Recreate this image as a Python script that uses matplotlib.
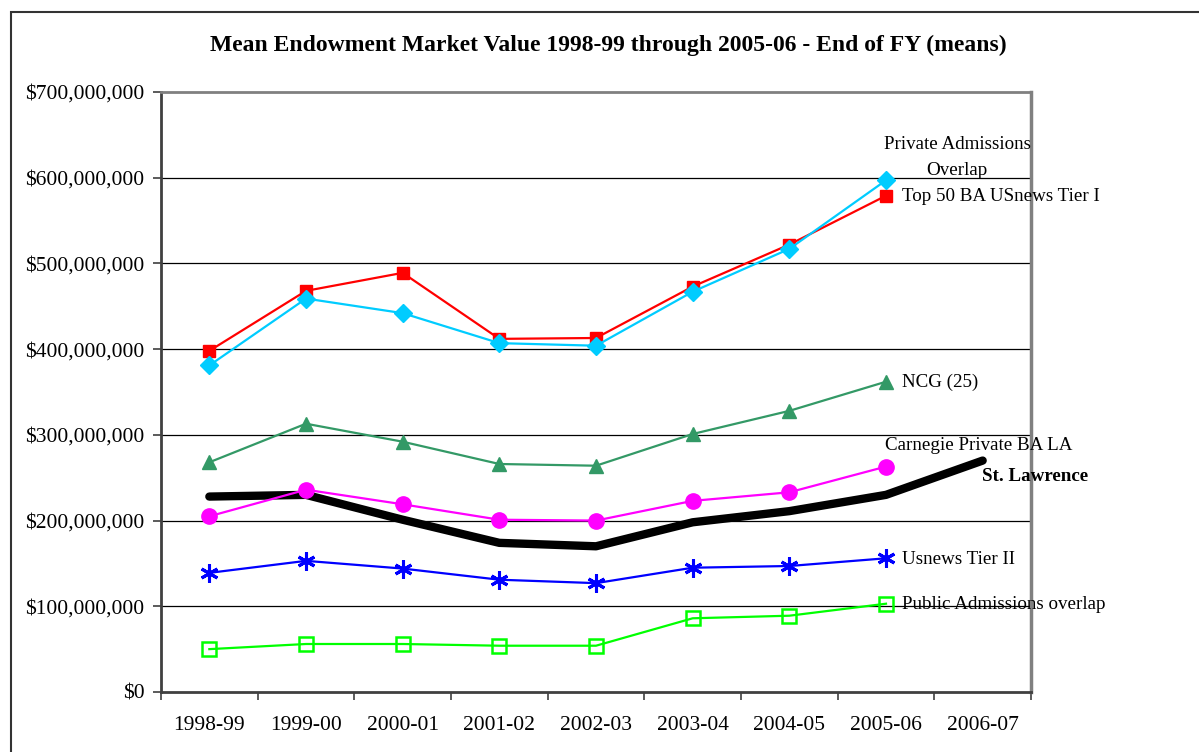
import matplotlib.pyplot as plt
from matplotlib.patches import Rectangle
from matplotlib.ticker import FixedLocator

plt.rcParams["font.family"] = ["Liberation Serif", "DejaVu Serif"]

# -----------------------------
# Data (in millions of dollars)
# -----------------------------
YEARS = ["1998-99", "1999-00", "2000-01", "2001-02", "2002-03",
         "2003-04", "2004-05", "2005-06", "2006-07"]

ST_LAWRENCE = [228, 230, 201, 174, 170, 198, 211, 230, 270]
TOP50_TIER1 = [398, 468, 489, 412, 413, 473, 522, 579]
PRIVATE_ADMISSIONS = [381, 459, 442, 407, 404, 467, 517, 597]
NCG_25 = [268, 313, 292, 266, 264, 301, 328, 362]
CARNEGIE_PRIVATE = [205, 236, 219, 201, 200, 223, 233, 263]
USNEWS_TIER2 = [139, 153, 144, 131, 127, 145, 147, 156]
PUBLIC_ADMISSIONS = [50, 56, 56, 54, 54, 86, 89, 103]

Y_TICKS = [0, 100, 200, 300, 400, 500, 600, 700]
Y_TICK_LABELS = ["$0", "$100,000,000", "$200,000,000", "$300,000,000",
                 "$400,000,000", "$500,000,000", "$600,000,000", "$700,000,000"]

TITLE = "Mean Endowment Market Value 1998-99 through 2005-06 - End of FY (means)"

# Colours
SKY = "#00CCFF"
RED = "#FF0000"
SEA_GREEN = "#339966"
MAGENTA = "#FF00FF"
BLUE = "#0000FF"
LIME = "#00FF00"
BLACK = "#000000"
GRAY = "#808080"
DARK = "#404040"


def add_label(ax, x, y, text, dx, dy, **kw):
    """Place a series label next to a data point (offset in pixels)."""
    ax.annotate(text, xy=(x, y), xytext=(dx, dy), textcoords="offset pixels",
                fontsize=13.7, color=BLACK, annotation_clip=False, **kw)


def main() -> None:
    fig = plt.figure(figsize=(11.99, 7.52), dpi=100)
    fig.patch.set_facecolor("white")

    # outer chart frame (runs off the right and bottom of the image)
    fig.patches.append(Rectangle((11 / 1199, -0.05), 1.1, 1 - 12 / 752 + 0.05,
                                 transform=fig.transFigure, fill=False,
                                 edgecolor="#333333", linewidth=1.5))

    ax = fig.add_axes([161 / 1199, 1 - 692 / 752, 870 / 1199, 600 / 752])

    x_all = list(range(len(YEARS)))
    x8 = x_all[:8]

    ax.plot(x_all, ST_LAWRENCE, color=BLACK, linewidth=6,
            solid_capstyle="round", solid_joinstyle="round", zorder=3)
    ax.plot(x8, TOP50_TIER1, color=RED, linewidth=1.6, marker="s",
            markersize=9, zorder=4)
    ax.plot(x8, PRIVATE_ADMISSIONS, color=SKY, linewidth=1.6, marker="D",
            markersize=9, zorder=5)
    ax.plot(x8, NCG_25, color=SEA_GREEN, linewidth=1.6, marker="^",
            markersize=9.5, zorder=4)
    ax.plot(x8, CARNEGIE_PRIVATE, color=MAGENTA, linewidth=1.6, marker="o",
            markersize=11, zorder=4)
    ax.plot(x8, USNEWS_TIER2, color=BLUE, linewidth=1.6, marker=(6, 2, 0),
            markersize=13, markeredgewidth=2.2, zorder=4)
    ax.plot(x8, PUBLIC_ADMISSIONS, color=LIME, linewidth=1.6, marker="s",
            markersize=9.5, markerfacecolor="none", markeredgewidth=1.8, zorder=4)

    # series labels
    last = 7
    add_label(ax, last, PRIVATE_ADMISSIONS[last], "Private Admissions\nOverlap",
              71, 23, ha="center", va="center", multialignment="center",
              linespacing=1.65)
    add_label(ax, last, TOP50_TIER1[last], "Top 50 BA USnews Tier I",
              16, -1, ha="left", va="center")
    add_label(ax, last, NCG_25[last], "NCG (25)", 16, -1, ha="left", va="center")
    add_label(ax, last, CARNEGIE_PRIVATE[last], "Carnegie Private BA LA",
              -1, 21, ha="left", va="center")
    add_label(ax, 8, ST_LAWRENCE[8], "St. Lawrence", -1, -16,
              ha="left", va="center", fontweight="bold")
    add_label(ax, last, USNEWS_TIER2[last], "Usnews Tier II",
              16, -1, ha="left", va="center")
    add_label(ax, last, PUBLIC_ADMISSIONS[last], "Public Admissions overlap",
              16, -1, ha="left", va="center")

    # axes and grid
    ax.set_xlim(-0.5, len(YEARS) - 0.5)
    ax.set_ylim(0, 700)
    ax.set_yticks(Y_TICKS)
    ax.set_yticklabels(Y_TICK_LABELS, fontsize=15.5)
    ax.set_xticks(x_all)
    ax.set_xticklabels(YEARS, fontsize=15.5)
    ax.xaxis.set_minor_locator(FixedLocator([i - 0.5 for i in range(len(YEARS) + 1)]))
    ax.tick_params(axis="x", which="major", length=0, pad=17)
    ax.tick_params(axis="x", which="minor", length=6, width=1.2, color=DARK,
                   direction="out")
    ax.tick_params(axis="y", length=6, width=1.2, color=DARK, direction="out",
                   pad=6)

    for y in Y_TICKS[1:-1]:
        ax.axhline(y, color=BLACK, linewidth=0.9, zorder=1)

    ax.spines["left"].set_color(DARK)
    ax.spines["bottom"].set_color(DARK)
    ax.spines["left"].set_linewidth(2)
    ax.spines["bottom"].set_linewidth(2)
    ax.spines["top"].set_color(GRAY)
    ax.spines["right"].set_color(GRAY)
    ax.spines["top"].set_linewidth(2)
    ax.spines["right"].set_linewidth(2.5)

    fig.text(608 / 1199, 1 - 45 / 752, TITLE, ha="center", va="center",
             fontsize=17, fontweight="bold")

    fig.savefig("out.png", dpi=100, facecolor="white")


if __name__ == "__main__":
    main()
